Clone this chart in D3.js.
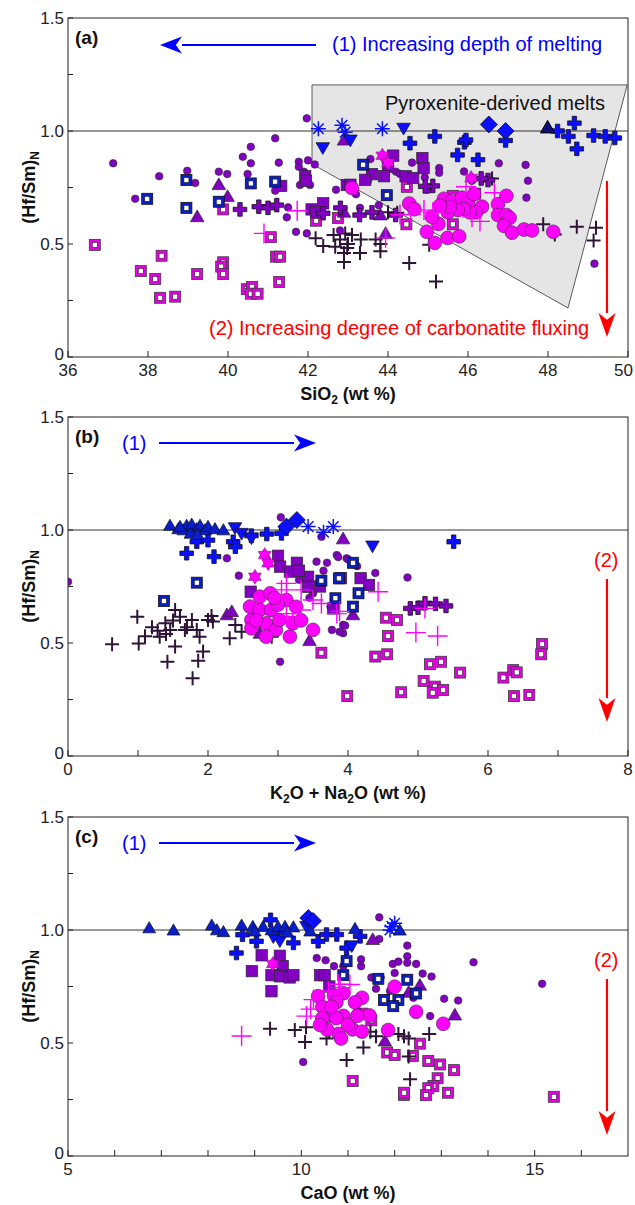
<!DOCTYPE html>
<html><head><meta charset="utf-8">
<script src="https://cdn.jsdelivr.net/npm/d3@7"></script>
<style>body{margin:0;background:#fff} svg{display:block;font-family:"Liberation Sans",Arial,sans-serif}</style>
</head><body><svg id="c" width="635" height="1205"></svg>
<script>
// ---------------- DATA ----------------
const yTicks = [0, 0.5, 1.0, 1.5];
const yTickLabels = ["0", "0.5", "1.0", "1.5"];
const yMinor = [0.25, 0.75, 1.25];
const xTicksA = [36, 38, 40, 42, 44, 46, 48, 50];
const xTicksB = [0, 1, 2, 3, 4, 5, 6, 7, 8];
const xLabelsB = [0, 2, 4, 6, 8];
const xTicksC = [5, 6, 7, 8, 9, 10, 11, 12, 13, 14, 15, 16];
const xLabelsC = [5, 10, 15];
const pyroxenitePolygon = [[42.1, 1.204], [49.98, 1.204], [48.5, 0.217], [42.1, 0.854]];

// Panel (a): SiO2 vs (Hf/Sm)N
const aMagOpenSq = [[36.67,0.496],[38.34,0.448],[37.82,0.38],[38.18,0.345],[38.3,0.262],[38.68,0.267],[39.23,0.367],[39.88,0.419],[39.83,0.40],[39.88,0.367],[39.88,0.653],[40.47,0.30],[40.6,0.31],[40.57,0.28],[40.74,0.28],[41.07,0.53],[41.2,0.444],[41.3,0.444],[41.28,0.332],[42.2,0.603],[42.75,0.615],[44.47,0.753],[44.46,0.587],[45.62,0.713],[45.62,0.587],[46.18,0.723]];
const aDarkCross = [[42.19,0.525],[42.38,0.491],[42.68,0.488],[42.93,0.547],[42.9,0.42],[42.8,0.52],[42.64,0.54],[43.0,0.50],[43.32,0.52],[42.98,0.482],[42.9,0.46],[43.3,0.46],[43.69,0.52],[43.81,0.50],[43.81,0.468],[44.23,0.638],[44.53,0.416],[45.2,0.334],[45.03,0.497],[47.88,0.587],[48.17,0.542],[48.72,0.576],[49.2,0.572],[49.14,0.515],[46.3,0.79],[46.6,0.79],[44.0,0.64],[43.1,0.54]];
const aCircle = [[37.13,0.857],[38.28,0.80],[37.68,0.70],[38.98,0.824],[38.98,0.78],[39.18,0.77],[39.77,0.82],[39.98,0.81],[40.37,0.886],[40.57,0.93],[40.57,0.857],[40.49,0.81],[41.18,0.968],[41.27,0.86],[41.18,0.736],[41.5,0.662],[41.47,0.618],[41.7,0.554],[41.97,0.547],[41.77,0.864],[41.77,0.842],[41.97,1.056],[42.17,0.852],[41.8,0.761],[42.05,0.761],[43.56,0.876],[43.77,0.672],[44.2,0.82],[44.3,0.81],[44.92,0.795],[45.28,0.836],[45.28,0.815],[45.9,0.821],[46.77,0.857],[47.44,0.85],[47.5,0.78],[47.46,0.705],[49.16,0.413],[42.7,0.74],[43.2,0.72],[43.5,0.78],[44.6,0.86],[45.0,0.74],[45.6,0.66],[46.1,0.78],[42.8,0.56],[43.3,0.66],[41.9,0.82],[42.0,0.87]];
const aSquare = [[41.33,0.757],[41.93,0.80],[41.95,0.78],[42.09,0.653],[42.38,0.68],[42.97,0.761],[44.13,0.891],[44.0,0.842],[43.6,0.809],[43.43,0.784],[43.9,0.80],[44.86,0.88],[44.89,0.836],[44.44,0.80],[44.63,0.792],[43.06,0.762],[42.2,0.64]];
const aTri = [[39.77,0.758],[39.99,0.705],[39.23,0.616],[42.9,0.955],[42.9,0.636],[43.81,0.624],[43.94,0.542]];
const aPurpleCross = [[40.3,0.653],[40.77,0.665],[41.0,0.66],[41.22,0.672],[42.38,0.636],[43.29,0.628],[43.6,0.64],[44.19,0.628],[45.12,0.757],[44.93,0.755],[46.5,0.783],[46.33,0.79],[42.81,0.66]];
const aBlueOpenSq = [[37.98,0.70],[38.96,0.783],[38.96,0.66],[39.77,0.687],[40.57,0.768],[41.18,0.776],[43.38,0.851],[43.97,0.716]];
const aMagCircle = [[43.1,0.747],[44.53,0.679],[44.66,0.654],[44.97,0.554],[45.17,0.505],[45.26,0.589],[45.49,0.527],[45.78,0.534],[45.4,0.70],[45.6,0.69],[45.85,0.705],[46.0,0.68],[46.15,0.72],[46.35,0.665],[46.2,0.64],[46.05,0.64],[45.9,0.655],[45.75,0.65],[45.5,0.64],[45.55,0.665],[46.75,0.676],[46.96,0.713],[46.75,0.628],[46.96,0.628],[47.04,0.616],[46.9,0.58],[47.1,0.55],[47.4,0.564],[47.6,0.56],[48.13,0.554],[45.3,0.67],[45.1,0.62]];
const aMagCross = [[41.73,0.647],[40.9,0.547],[43.94,0.527],[44.57,0.631],[45.12,0.64],[45.95,0.753],[46.66,0.727],[46.1,0.62],[46.3,0.60],[44.9,0.65],[44.3,0.63]];
const aStar = [[43.86,0.891],[46.08,0.792],[44.0,0.86]];
const aBlueCross = [[44.55,0.946],[45.17,0.976],[45.91,0.95],[45.74,0.894],[46.25,0.873],[46.94,0.958],[48.24,1.0],[48.51,0.976],[48.66,1.035],[48.72,0.921],[49.14,0.98],[49.43,0.976],[49.67,0.969],[45.95,0.96]];
const aAsterisk = [[42.26,1.01],[42.85,1.025],[42.93,0.995],[43.86,1.01]];
const aDownTri = [[42.37,0.931],[43.06,0.965],[44.39,1.017]];
const aDiamond = [[46.52,1.029],[46.94,1.0]];
const aNavyTri = [[47.99,1.01]];

// Panel (b): K2O+Na2O vs (Hf/Sm)N
const bMagOpenSq = [[3.62,0.457],[3.99,0.265],[4.54,0.612],[4.7,0.602],[4.57,0.531],[4.39,0.44],[4.56,0.45],[5.17,0.406],[5.33,0.417],[5.6,0.369],[5.08,0.332],[5.24,0.307],[5.21,0.28],[5.36,0.292],[4.76,0.282],[6.22,0.347],[6.36,0.38],[6.41,0.37],[6.37,0.265],[6.59,0.27],[6.77,0.496],[6.76,0.45]];
const bDarkCross = [[0.63,0.494],[0.99,0.616],[1.01,0.498],[1.1,0.53],[1.28,0.554],[1.31,0.528],[1.39,0.587],[1.46,0.558],[1.53,0.646],[1.6,0.616],[1.67,0.558],[1.77,0.602],[1.84,0.558],[1.42,0.417],[1.53,0.484],[1.78,0.344],[1.86,0.422],[1.93,0.462],[1.88,0.528],[2.0,0.602],[2.07,0.595],[2.31,0.521],[2.39,0.58],[2.48,0.55],[2.91,0.528],[1.2,0.57],[1.5,0.60],[1.7,0.57],[1.4,0.54],[2.05,0.62]];
const bCircle = [[3.04,1.056],[3.62,0.97],[2.27,0.875],[2.44,0.798],[0.0,0.771],[3.03,0.417],[3.55,0.86],[3.7,0.855],[3.84,0.889],[3.98,0.875],[3.77,0.558],[3.93,0.58],[3.5,0.72],[3.86,0.88],[4.0,0.87],[4.13,0.84],[4.39,0.81],[4.85,0.79],[3.93,0.543],[3.88,0.55],[3.96,0.577],[3.6,0.78],[3.3,0.78],[3.45,0.70],[3.75,0.66],[3.65,0.82]];
const bSquare = [[3.0,0.886],[3.03,0.838],[3.27,0.855],[3.17,0.816],[3.43,0.793],[2.61,0.727],[3.43,0.749],[3.79,0.653],[4.18,0.787],[4.3,0.757],[3.9,0.787],[3.3,0.82],[3.6,0.75]];
const bTri = [[3.93,0.956],[2.27,0.62],[2.34,0.634],[2.74,0.538],[3.45,0.506],[4.07,0.62]];
const bPurpleCross = [[4.89,0.653],[5.0,0.656],[5.1,0.676],[5.25,0.673],[5.4,0.664]];
const bBlueOpenSq = [[1.84,0.767],[1.37,0.686],[3.62,0.776],[3.87,0.786],[3.82,0.698],[4.07,0.855],[4.15,0.72],[4.07,0.661]];
const bMagCircle = [[2.6,0.661],[2.62,0.602],[2.62,0.565],[2.74,0.705],[2.89,0.72],[2.74,0.646],[2.9,0.646],[2.83,0.587],[2.97,0.558],[3.17,0.528],[3.21,0.587],[3.02,0.602],[3.5,0.558],[3.33,0.6],[3.12,0.69],[3.26,0.66],[2.83,0.528],[2.69,0.6],[3.0,0.67],[2.95,0.7]];
const bMagCross = [[3.12,0.764],[3.05,0.735],[3.33,0.735],[3.5,0.69],[3.33,0.646],[3.62,0.675],[3.21,0.63],[3.84,0.63],[3.12,0.617],[4.43,0.727],[3.88,0.64],[5.1,0.653],[4.97,0.546],[5.28,0.531]];
const bStar = [[2.81,0.889],[2.86,0.853],[2.67,0.793]];
const bBlueCross = [[1.84,0.948],[2.0,0.955],[1.695,0.897],[2.086,0.882],[2.36,0.948],[2.39,0.926],[2.62,0.975],[2.84,0.982],[3.05,0.985],[5.51,0.948]];
const bAsterisk = [[3.43,1.015],[3.65,0.99],[3.79,1.015]];
const bDownTri = [[2.386,1.015],[2.48,0.99],[2.62,0.97],[4.35,0.934]];
const bDiamond = [[3.27,1.044],[3.12,1.015]];
const bBlueTri = [[1.457,1.015],[1.576,1.0],[1.65,0.995],[1.695,1.015],[1.767,1.02],[1.838,1.0],[1.886,1.015],[1.957,0.995],[2.0,1.01],[2.1,1.0],[2.22,0.995],[1.75,0.98],[1.6,1.01],[1.85,0.975]];

// Panel (c): CaO vs (Hf/Sm)N
const cMagOpenSq = [[11.84,0.458],[12.0,0.447],[12.39,0.443],[12.54,0.497],[12.72,0.42],[12.97,0.405],[13.27,0.38],[12.92,0.344],[12.83,0.31],[12.72,0.30],[13.14,0.28],[12.67,0.269],[12.2,0.27],[12.2,0.28],[11.1,0.332],[15.41,0.262],[11.5,0.60],[11.3,0.63]];
const cDarkCross = [[9.33,0.563],[9.86,0.557],[10.08,0.504],[10.1,0.57],[10.54,0.52],[10.97,0.425],[11.33,0.48],[12.08,0.54],[12.2,0.53],[12.3,0.52],[12.74,0.54],[12.33,0.34],[12.3,0.44],[11.48,0.55],[11.6,0.53],[10.6,0.55]];
const cCircle = [[11.67,1.056],[11.67,0.96],[12.27,0.931],[12.27,0.884],[12.27,0.855],[11.28,0.87],[11.28,0.84],[11.96,0.85],[12.08,0.86],[12.0,0.81],[12.46,0.85],[12.6,0.807],[12.79,0.794],[13.06,0.696],[13.36,0.688],[12.76,0.619],[13.69,0.857],[15.16,0.762],[11.5,0.79],[11.7,0.79],[11.6,0.74],[10.33,0.876],[10.52,0.866],[10.04,0.416],[10.94,0.87],[10.9,0.84],[10.7,0.84],[12.3,0.78],[12.4,0.70],[11.9,0.73],[9.8,0.8]];
const cSquare = [[9.15,0.888],[8.94,0.818],[9.54,0.886],[9.6,0.84],[9.36,0.80],[9.55,0.795],[9.75,0.79],[9.83,0.80],[9.36,0.729],[10.4,0.80],[10.5,0.80],[10.6,0.75]];
const cTri = [[11.53,0.953],[13.29,0.619],[11.79,0.504],[12.54,0.751],[12.3,0.72],[11.2,0.64]];
const cBlueOpenSq = [[10.97,0.862],[11.65,0.784],[12.27,0.78],[12.46,0.719],[11.77,0.69],[12.08,0.69],[11.97,0.663],[10.9,0.80]];
const cMagCircle = [[12.0,0.749],[12.46,0.638],[13.04,0.585],[11.86,0.557],[11.46,0.622],[11.3,0.70],[11.15,0.68],[10.9,0.72],[10.7,0.71],[10.65,0.62],[10.9,0.62],[11.1,0.56],[11.3,0.55],[11.0,0.58],[10.8,0.54],[10.85,0.52],[10.36,0.707],[10.45,0.66],[10.75,0.68],[10.45,0.61],[10.75,0.61],[10.55,0.56],[10.4,0.58],[10.65,0.66],[11.2,0.62]];
const cMagCross = [[8.72,0.531],[10.11,0.619],[10.26,0.692],[10.58,0.73],[11.04,0.759],[10.83,0.745],[10.8,0.76],[10.2,0.65]];
const cStar = [[9.39,0.85]];
const cBlueCross = [[9.34,1.045],[8.74,0.979],[9.04,0.95],[8.61,0.898],[9.83,0.943],[10.36,0.95],[10.54,0.98],[10.76,0.98],[11.26,0.972],[10.97,0.92],[9.5,0.99]];
const cAsterisk = [[11.94,1.016],[11.9,1.0],[12.0,1.03]];
const cDownTri = [[9.54,0.957],[10.11,1.02],[11.08,0.935],[9.4,0.975]];
const cDiamond = [[10.15,1.053],[10.25,1.04]];
const cBlueTri = [[6.74,1.004],[7.26,0.994],[8.08,1.016],[8.19,0.995],[8.33,0.987],[8.72,1.016],[8.96,1.01],[9.18,1.01],[9.36,0.995],[9.5,1.01],[9.65,1.01],[9.83,1.008],[10.19,0.99],[11.15,1.001],[12.11,0.994],[9.0,0.99],[9.7,0.985]];

// ---------------- STYLE ----------------
const PURPLE = "#8200c2", MAG = "#ff00ff", BLUE = "#0a10ff", DBLUE = "#0a1ecc", DARK = "#2e1436", NAVY = "#0c0c7a";
const svg = d3.select("#c");
const L = 68, W = 560, H = 339;
const TICK_FS = 17, TITLE_FS = 18, NOTE_FS = 20;

function crossPath(a, w) {
  return `M${-w},${-a}H${w}V${-w}H${a}V${w}H${w}V${a}H${-w}V${w}H${-a}V${-w}H${-w}Z`;
}
const markers = {
  circle: (g) => g.append("circle").attr("r", 3.8).attr("fill", PURPLE).attr("stroke", "#2a2a2a").attr("stroke-width", 0.6),
  bigCircle: (g) => g.append("circle").attr("r", 6.9).attr("fill", MAG).attr("stroke", "#5a2a5a").attr("stroke-width", 0.7),
  square: (g) => g.append("rect").attr("x", -5.7).attr("y", -5.7).attr("width", 11.4).attr("height", 11.4).attr("fill", PURPLE).attr("stroke", "#2a2a2a").attr("stroke-width", 0.7),
  tri: (g) => g.append("path").attr("d", d3.symbol(d3.symbolTriangle, 80)()).attr("fill", PURPLE).attr("stroke", "#2a2a2a").attr("stroke-width", 0.7),
  blueTri: (g) => g.append("path").attr("d", d3.symbol(d3.symbolTriangle, 72)()).attr("fill", DBLUE).attr("stroke", "#111").attr("stroke-width", 0.7),
  navyTri: (g) => g.append("path").attr("d", d3.symbol(d3.symbolTriangle, 90)()).attr("fill", NAVY).attr("stroke", "#000").attr("stroke-width", 1),
  downTri: (g) => g.append("path").attr("d", d3.symbol(d3.symbolTriangle, 80)()).attr("transform", "rotate(180)").attr("fill", BLUE).attr("stroke", "#111").attr("stroke-width", 0.7),
  diamond: (g) => g.append("path").attr("d", "M0,-8.5L8.5,0L0,8.5L-8.5,0Z").attr("fill", BLUE).attr("stroke", "#111").attr("stroke-width", 0.8),
  blueCross: (g) => g.append("path").attr("d", crossPath(6.8, 2.2)).attr("fill", BLUE).attr("stroke", "#111").attr("stroke-width", 0.8),
  purpleCross: (g) => g.append("path").attr("d", crossPath(6.8, 2.2)).attr("fill", PURPLE).attr("stroke", "#111").attr("stroke-width", 0.8),
  darkCross: (g) => g.append("path").attr("d", "M-7,0H7M0,-7V7").attr("stroke", DARK).attr("stroke-width", 2).attr("fill", "none"),
  magCross: (g) => g.append("path").attr("d", "M-10,0H10M0,-10V10").attr("stroke", MAG).attr("stroke-width", 1.4).attr("fill", "none"),
  asterisk: (g) => g.append("path").attr("d", "M-7.5,0H7.5M0,-7.5V7.5M-5.3,-5.3L5.3,5.3M-5.3,5.3L5.3,-5.3").attr("stroke", BLUE).attr("stroke-width", 1.5).attr("fill", "none"),
  star: (g) => {
    g.append("path").attr("d", "M0,-7.5L6.5,3.75L-6.5,3.75Z").attr("fill", MAG).attr("stroke", "#6a1a6a").attr("stroke-width", 0.5);
    g.append("path").attr("d", "M0,7.5L6.5,-3.75L-6.5,-3.75Z").attr("fill", MAG).attr("stroke", "#6a1a6a").attr("stroke-width", 0.5);
    g.append("path").attr("d", "M0,-4.3L3.75,-2.15L3.75,2.15L0,4.3L-3.75,2.15L-3.75,-2.15Z").attr("fill", MAG);
  },
  magOpenSq: (g) => { g.append("rect").attr("x", -5.5).attr("y", -5.5).attr("width", 11).attr("height", 11).attr("fill", "#e600e6").attr("stroke", "#3a3a3a").attr("stroke-width", 0.8);
    g.append("rect").attr("x", -2.5).attr("y", -2.5).attr("width", 5).attr("height", 5).attr("fill", "#fff").attr("stroke", "#222").attr("stroke-width", 0.6); },
  blueOpenSq: (g) => { g.append("rect").attr("x", -5.5).attr("y", -5.5).attr("width", 11).attr("height", 11).attr("fill", DBLUE).attr("stroke", "#111").attr("stroke-width", 0.8);
    g.append("rect").attr("x", -2.5).attr("y", -2.5).attr("width", 5).attr("height", 5).attr("fill", "#fff").attr("stroke", "#111").attr("stroke-width", 0.6); }
};

const panels = [
  { top: 18, domain: [36, 50], ticks: xTicksA, labels: xTicksA, tag: "(a)",
    title: [["SiO", 0], ["2", 1], [" (wt %)", 0]],
    series: [["magOpenSq", aMagOpenSq], ["darkCross", aDarkCross], ["circle", aCircle], ["square", aSquare], ["tri", aTri], ["blueOpenSq", aBlueOpenSq], ["purpleCross", aPurpleCross], ["bigCircle", aMagCircle], ["magCross", aMagCross], ["star", aStar], ["blueCross", aBlueCross], ["asterisk", aAsterisk], ["downTri", aDownTri], ["diamond", aDiamond], ["navyTri", aNavyTri]] },
  { top: 417, domain: [0, 8], ticks: xTicksB, labels: xLabelsB, tag: "(b)",
    title: [["K", 0], ["2", 1], ["O + Na", 0], ["2", 1], ["O (wt %)", 0]],
    series: [["magOpenSq", bMagOpenSq], ["darkCross", bDarkCross], ["circle", bCircle], ["square", bSquare], ["tri", bTri], ["blueOpenSq", bBlueOpenSq], ["purpleCross", bPurpleCross], ["bigCircle", bMagCircle], ["magCross", bMagCross], ["star", bStar], ["blueCross", bBlueCross], ["asterisk", bAsterisk], ["downTri", bDownTri], ["diamond", bDiamond], ["blueTri", bBlueTri]] },
  { top: 817, domain: [5, 17], ticks: xTicksC, labels: xLabelsC, tag: "(c)",
    title: [["CaO (wt %)", 0]],
    series: [["magOpenSq", cMagOpenSq], ["darkCross", cDarkCross], ["circle", cCircle], ["square", cSquare], ["tri", cTri], ["blueOpenSq", cBlueOpenSq], ["bigCircle", cMagCircle], ["magCross", cMagCross], ["star", cStar], ["blueCross", cBlueCross], ["asterisk", cAsterisk], ["downTri", cDownTri], ["diamond", cDiamond], ["blueTri", cBlueTri]] }
];

function arrow(g, x1, y1, x2, y2, color, headLen, headW) {
  const ang = Math.atan2(y2 - y1, x2 - x1);
  const bx = x2 - headLen * Math.cos(ang), by = y2 - headLen * Math.sin(ang);
  g.append("line").attr("x1", x1).attr("y1", y1).attr("x2", bx).attr("y2", by).attr("stroke", color).attr("stroke-width", 2.2);
  const px = -Math.sin(ang) * headW / 2, py = Math.cos(ang) * headW / 2;
  const nx = x2 - headLen * 0.72 * Math.cos(ang), ny = y2 - headLen * 0.72 * Math.sin(ang);
  g.append("path").attr("d", `M${x2},${y2}L${bx + px},${by + py}L${nx},${ny}L${bx - px},${by - py}Z`).attr("fill", color);
}

panels.forEach((p, i) => {
  const x = d3.scaleLinear().domain(p.domain).range([L, L + W]);
  const y = d3.scaleLinear().domain([0, 1.5]).range([p.top + H, p.top]);
  const g = svg.append("g");
  const clipId = "clip" + i;
  svg.append("clipPath").attr("id", clipId).append("rect").attr("x", L).attr("y", p.top).attr("width", W).attr("height", H);

  if (i === 0) {
    g.append("path").attr("d", d3.line().x(d => x(d[0])).y(d => y(d[1]))(pyroxenitePolygon) + "Z")
      .attr("fill", "#e5e5e5").attr("stroke", "#333").attr("stroke-width", 0.8);
    g.append("text").attr("x", 385).attr("y", 110).attr("font-size", NOTE_FS).attr("fill", "#111").text("Pyroxenite-derived melts");
  }
  // reference line at 1.0
  g.append("line").attr("x1", L).attr("x2", L + W).attr("y1", y(1)).attr("y2", y(1)).attr("stroke", "#333").attr("stroke-width", 1);

  // points
  const pg = g.append("g").attr("clip-path", `url(#${clipId})`);
  p.series.forEach(([kind, data]) => {
    data.forEach(d => {
      const m = pg.append("g").attr("transform", `translate(${x(d[0])},${y(d[1])})`);
      markers[kind](m);
    });
  });

  // frame
  g.append("rect").attr("x", L).attr("y", p.top).attr("width", W).attr("height", H).attr("fill", "none").attr("stroke", "#222").attr("stroke-width", 1);
  // y ticks inward
  yTicks.concat(yMinor).forEach(t => {
    g.append("line").attr("x1", L).attr("x2", L + 5).attr("y1", y(t)).attr("y2", y(t)).attr("stroke", "#222");
  });
  yTicks.forEach((t, k) => {
    g.append("text").attr("x", L - 4).attr("y", y(t) + (t === 0 ? 3 : 6)).attr("text-anchor", "end").attr("font-size", TICK_FS).attr("fill", "#222").text(yTickLabels[k]);
  });
  // x ticks inward
  p.ticks.forEach(t => {
    g.append("line").attr("x1", x(t)).attr("x2", x(t)).attr("y1", p.top + H).attr("y2", p.top + H - 6).attr("stroke", "#222");
  });
  p.labels.forEach(t => {
    const tx = g.append("text").attr("y", p.top + H + 19).attr("font-size", TICK_FS).attr("fill", "#222").text(t);
    const half = String(t).length * TICK_FS * 0.278;
    if (x(t) + half > 633) tx.attr("x", 633).attr("text-anchor", "end");
    else tx.attr("x", x(t)).attr("text-anchor", "middle");
  });
  // x title
  const xt = g.append("text").attr("x", L + W / 2).attr("y", p.top + H + 43).attr("text-anchor", "middle").attr("font-size", TITLE_FS).attr("font-weight", "bold").attr("fill", "#111");
  p.title.forEach(([s, sub], k) => {
    if (sub) xt.append("tspan").attr("dy", 4).attr("font-size", 12).text(s);
    else xt.append("tspan").attr("dy", k > 0 ? -4 : 0).text(s);
  });
  // y title
  const yt = g.append("text").attr("transform", `translate(35,${p.top + H / 2}) rotate(-90)`).attr("text-anchor", "middle").attr("font-size", TITLE_FS).attr("font-weight", "bold").attr("fill", "#111");
  yt.append("tspan").text("(Hf/Sm)");
  yt.append("tspan").attr("dy", 4).attr("font-size", 12).text("N");
  // panel tag
  g.append("text").attr("x", L + 7).attr("y", p.top + 26).attr("font-size", 19).attr("font-weight", "bold").attr("fill", "#111").text(p.tag);

  // annotations
  if (i === 0) {
    arrow(g, 316, 45, 160, 45, "#0000ff", 22, 17);
    g.append("text").attr("x", 332).attr("y", 51).attr("font-size", NOTE_FS).attr("fill", "#0000ff").text("(1) Increasing depth of melting");
    arrow(g, 607, 181, 607, 337, "#ff0000", 24, 17);
    g.append("text").attr("x", 209).attr("y", 335).attr("font-size", NOTE_FS).attr("fill", "#ff0000").text("(2) Increasing degree of carbonatite fluxing");
  } else {
    g.append("text").attr("x", 122).attr("y", p.top + 33).attr("font-size", NOTE_FS).attr("fill", "#0000ff").text("(1)");
    arrow(g, 159, p.top + 26, 316, p.top + 26, "#0000ff", 22, 17);
    g.append("text").attr("x", 594).attr("y", p.top + 150).attr("font-size", NOTE_FS).attr("fill", "#ff0000").text("(2)");
    arrow(g, 607, p.top + 162, 607, p.top + 305 + (i === 2 ? 13 : 0), "#ff0000", 24, 17);
  }
});
</script></body></html>
